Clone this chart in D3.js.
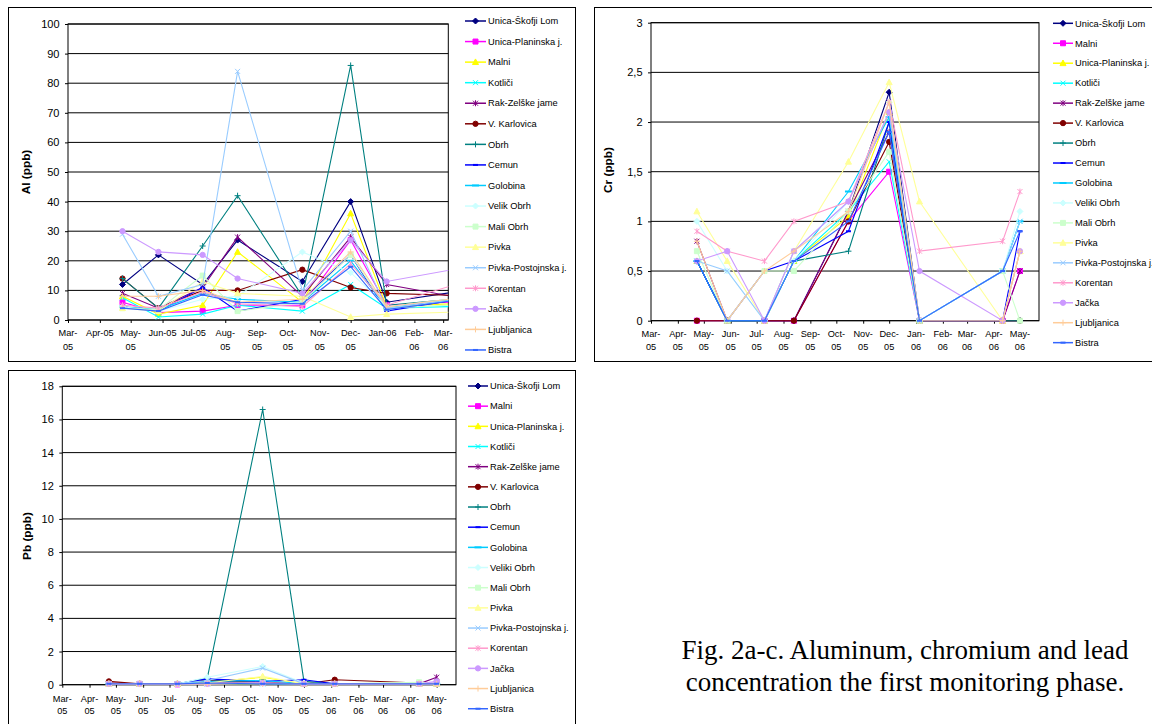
<!DOCTYPE html>
<html><head><meta charset="utf-8">
<script src="https://cdn.jsdelivr.net/npm/d3@7"></script>
<style>body{margin:0;background:#fff}svg{display:block}text{font-family:"Liberation Sans",Arial,sans-serif}text.cap{font-family:"Liberation Serif","Times New Roman",serif}</style>
</head><body><svg id="c" width="1152" height="724"></svg>
<script>
// ---------- DATA ----------
const sampleDates = ["2005-04-23","2005-05-28","2005-07-10","2005-08-13","2005-10-15","2005-12-01","2006-01-05","2006-04-11","2006-05-01"];

const alNames = ["Unica-Škofji Lom","Unica-Planinska j.","Malni","Kotliči","Rak-Zelške jame","V. Karlovica","Obrh","Cemun","Golobina","Velik Obrh","Mali Obrh","Pivka","Pivka-Postojnska j.","Korentan","Jačka","Ljubljanica","Bistra"];
const crNames = ["Unica-Škofji Lom","Malni","Unica-Planinska j.","Kotliči","Rak-Zelške jame","V. Karlovica","Obrh","Cemun","Golobina","Veliki Obrh","Mali Obrh","Pivka","Pivka-Postojnska j.","Korentan","Jačka","Ljubljanica","Bistra"];
const pbNames = crNames.slice();

const alValues = [
  [12, 22, 12, 27, 13, 40, 6, 11, null],
  [6, 2.5, 3, 5, 5, 27, 5, 6.6, null],
  [8, 2, 5, 23, 6, 36, 4.5, 6, null],
  [7.5, 1, 2, 5, 3, 12, 4, 4.8, null],
  [9, 4, 11, 28, 8, 28, 12, 6, null],
  [14, 4, 10, 10, 17, 11, 9, 8, null],
  [14, 4, 25, 42, 8, 86, 5, 8, null],
  [4.5, 3, 11, 3, 7, 22, 3, 8.5, null],
  [4.5, 3.5, 9, 7, 6, 20, 4, 8, null],
  [4.5, 3, 7, 8, 23, 16, 4.5, 8.5, null],
  [4, 3.5, 15, 3, 6, 22, 4, 5.6, null],
  [4, 3, 13, 9, 8, 1, 2, 3, null],
  [29, 8, 12, 84, 10, 30, 4, 8, null],
  [5, 4, 9.5, 5.5, 4.5, 19, 5, 15, null],
  [30, 23, 22, 14, 9, 27, 13, 19, null],
  [8, 8, 10, 6, 7, 23, 4.5, 8.5, null],
  [4, 3, 8.5, 6, 5.5, 18, 3.5, 8, null]
];
const crValues = [
  [0.6, 0, 0, 0, 1.1, 2.3, 0, 0, 0],
  [0, 0, 0, 0, 1.0, 1.5, 0, 0, 0.5],
  [0.6, 0, 0, 0.6, 1.05, 2.1, 0, 0, 0.7],
  [0.6, 0, 0, 0.6, 1.1, 1.6, 0, 0.5, 1.0],
  [0.8, 0, 0, 0, 1.1, 1.9, 0, 0, 0.5],
  [0, 0, 0, 0, 1.0, 1.8, 0, 0, 0],
  [0.6, 0, 0, 0.6, 0.7, 2.0, 0, 0, 0],
  [0.6, 0, 0.5, 0.6, 0.9, 2.0, 0, 0, 0.9],
  [0.6, 0, 0, 0.6, 1.3, 2.05, 0, 0.5, 1.0],
  [1.0, 0.5, 0, 0.6, 1.2, 2.2, 0, 0.5, 1.1],
  [0.7, 0, 0.5, 0.5, 1.1, 1.7, 0, 0.5, 0],
  [1.1, 0.6, 0, 0.7, 1.6, 2.4, 1.2, 0, 0.7],
  [0.6, 0.5, 0, 0.7, 1.2, 2.1, 0, 0.5, 1.0],
  [0.9, 0.7, 0.6, 1.0, 1.2, 2.2, 0.7, 0.8, 1.3],
  [0.6, 0.7, 0, 0.7, 1.2, 2.1, 0.5, 0, 0.7],
  [0.8, 0, 0.5, 0.7, 1.1, 2.2, 0, 0, 0.7],
  [0.6, 0, 0, 0.6, 1.0, 1.9, 0, 0.5, 0.9]
];
const pbValues = [
  [0.05, 0.05, 0.05, 0.3, 0.1, 0.05, 0.05, 0.05, 0.05],
  [0.05, 0.05, 0.02, 0.1, 0.15, 0.05, 0.05, 0.05, 0.1],
  [0.05, 0.05, 0.05, 0.15, 0.45, 0.05, 0.05, 0.05, 0.05],
  [0.02, 0.02, 0.02, 0.05, 0.05, 0.02, 0.02, 0.02, 0.02],
  [0.1, 0.05, 0.05, 0.2, 0.1, 0.05, 0.05, 0.05, 0.45],
  [0.2, 0.05, 0.05, 0.25, 0.15, 0.05, 0.3, 0.1, 0.05],
  [0.05, 0.05, 0.05, 0.4, 16.6, 0.2, 0.05, 0.05, 0.05],
  [0.05, 0.05, 0.05, 0.35, 0.2, 0.3, 0.05, 0.05, 0.05],
  [0.05, 0.05, 0.05, 0.2, 0.25, 0.05, 0.05, 0.05, 0.05],
  [0.05, 0.05, 0.05, 0.45, 1.1, 0.1, 0.05, 0.1, 0.05],
  [0.05, 0.05, 0.05, 0.1, 0.1, 0.05, 0.05, 0.15, 0.1],
  [0.05, 0.05, 0.05, 0.1, 0.5, 0.05, 0.05, 0.05, 0.05],
  [0.05, 0.05, 0.05, 0.25, 1.0, 0.05, 0.05, 0.05, 0.05],
  [0.05, 0.05, 0.05, 0.05, 0.1, 0.05, 0.05, 0.05, 0.05],
  [0.05, 0.05, 0.05, 0.05, 0.1, 0.05, 0.05, 0.05, 0.2],
  [0.05, 0.05, 0.05, 0.05, 0.05, 0.05, 0.05, 0.05, 0.05],
  [0.05, 0.05, 0.05, 0.1, 0.05, 0.05, 0.05, 0.05, 0.05]
];

const alXTickLabels = ["Mar-\n05","Apr-05","May-\n05","Jun-05","Jul-05","Aug-\n05","Sep-\n05","Oct-\n05","Nov-\n05","Dec-\n05","Jan-06","Feb-\n06","Mar-\n06"];
const crXTickLabels = ["Mar-\n05","Apr-\n05","May-\n05","Jun-\n05","Jul-\n05","Aug-\n05","Sep-\n05","Oct-\n05","Nov-\n05","Dec-\n05","Jan-\n06","Feb-\n06","Mar-\n06","Apr-\n06","May-\n06"];
const pbXTickLabels = crXTickLabels.slice();
const alYTicks = [0,10,20,30,40,50,60,70,80,90,100];
const alYTickLabels = ["0","10","20","30","40","50","60","70","80","90","100"];
const crYTicks = [0,0.5,1,1.5,2,2.5,3];
const crYTickLabels = ["0","0,5","1","1,5","2","2,5","3"];
const pbYTicks = [0,2,4,6,8,10,12,14,16,18];
const pbYTickLabels = ["0","2","4","6","8","10","12","14","16","18"];
const captionLines = ["Fig. 2a-c. Aluminum, chromium and lead","concentration the first monitoring phase."];

// ---------- STYLE ----------
const colors = ["#000080","#FF00FF","#FFFF00","#00FFFF","#800080","#800000","#008080","#0000FF","#00CCFF","#CCFFFF","#CCFFCC","#FFFF99","#99CCFF","#FF99CC","#CC99FF","#FFCC99","#3366FF"];
const markerTypes = ["diamond","square","triangle","x","star","circle","plus","dash","longdash","diamond","square","triangle","x","star","circle","plus","dash"];
const markerPaths = {
  diamond: {d:"M0,-3L3,0L0,3L-3,0Z", fill:true},
  square: {d:"M-2.5,-2.5h5v5h-5Z", fill:true},
  triangle: {d:"M0,-3.2L3,2.4L-3,2.4Z", fill:true},
  x: {d:"M-2.5,-2.5L2.5,2.5M-2.5,2.5L2.5,-2.5", fill:false},
  star: {d:"M-2.5,-2.5L2.5,2.5M-2.5,2.5L2.5,-2.5M0,-3V3", fill:false},
  circle: {d:d3.symbol(d3.symbolCircle, 22)(), fill:true},
  plus: {d:"M-3,0H3M0,-3V3", fill:false},
  dash: {d:"M-2.5,0H2.5", fill:false, w:2},
  longdash: {d:"M-3.5,0H3.5", fill:false, w:2}
};

const svg = d3.select("#c");
const parse = d3.timeParse("%Y-%m-%d");
const dates = sampleDates.map(parse);

function marker(g, type, color, x, y){
  const m = markerPaths[type];
  g.append("path").attr("d", m.d).attr("transform", `translate(${x},${y})`)
    .attr("fill", m.fill ? color : "none").attr("stroke", color).attr("stroke-width", m.w || 1);
}

function drawChart(cfg, idx){
  const {panel, plot, xStart, xEnd, yTicks, yTickLabels, xTickLabels, names, values, title, titleX, titleY, legend, xl1, xl2} = cfg;
  svg.append("rect").attr("x", panel[0]+0.5).attr("y", panel[1]+0.5).attr("width", panel[2]-panel[0]).attr("height", panel[3]-panel[1])
    .attr("fill","#fff").attr("stroke","#000").attr("stroke-width",1);
  const x = d3.scaleTime().domain([parse(xStart), parse(xEnd)]).range([plot[0], plot[2]]);
  const y = d3.scaleLinear().domain([yTicks[0], yTicks[yTicks.length-1]]).range([plot[3], plot[1]]);
  const g = svg.append("g");
  g.append("g").selectAll("line").data(yTicks).join("line")
    .attr("x1", plot[0]).attr("x2", plot[2]).attr("y1", d=>y(d)).attr("y2", d=>y(d))
    .attr("stroke","#000").attr("stroke-width",1);
  g.append("rect").attr("x",plot[0]).attr("y",plot[1]).attr("width",plot[2]-plot[0]).attr("height",plot[3]-plot[1])
    .attr("fill","none").attr("stroke","#000").attr("stroke-width",1);
  const ya = d3.axisLeft(y).tickValues(yTicks).tickSize(3).tickFormat((d,i)=>yTickLabels[i]);
  const yg = g.append("g").attr("transform",`translate(${plot[0]},0)`).call(ya);
  yg.select(".domain").remove();
  yg.selectAll("text").attr("font-size",11).attr("font-family",null).attr("fill","#000").attr("x",-8.5);
  yg.selectAll("line").attr("stroke","#000");
  const monthTicks = d3.timeMonth.range(parse(xStart), d3.timeDay.offset(parse(xEnd),1));
  const xa = d3.axisBottom(x).tickValues(monthTicks).tickSize(3).tickFormat("");
  const xg = g.append("g").attr("transform",`translate(0,${plot[3]})`).call(xa);
  xg.select(".domain").remove();
  xg.selectAll("line").attr("stroke","#000");
  const lab = g.append("g").selectAll("text").data(monthTicks).join("text")
    .attr("text-anchor","middle").attr("font-size",9.2).attr("fill","#000");
  lab.each(function(d,i){
    const parts = xTickLabels[i].split("\n");
    const t = d3.select(this);
    parts.forEach((p,j)=>{
      t.append("tspan").attr("x", x(d)).attr("y", plot[3] + (j===0?xl1:xl2)).text(p);
    });
  });
  g.append("text").attr("transform",`translate(${titleX},${titleY}) rotate(-90)`).attr("text-anchor","middle")
    .attr("dy","0.35em").attr("font-size",11.8).attr("font-weight","bold").attr("fill","#000").text(title);
  const clipId = "clip"+idx;
  svg.append("clipPath").attr("id",clipId).append("rect").attr("x",plot[0]).attr("y",plot[1]-4).attr("width",plot[2]-plot[0]).attr("height",plot[3]-plot[1]+8);
  const sg = g.append("g").attr("clip-path",`url(#${clipId})`);
  const line = d3.line().defined(d=>d.v!=null).x(d=>x(d.t)).y(d=>y(d.v));
  values.forEach((vals, s)=>{
    const pts = vals.map((v,i)=>({t:dates[i], v}));
    sg.append("path").attr("d", line(pts)).attr("fill","none").attr("stroke",colors[s]).attr("stroke-width",1.1);
    pts.filter(p=>p.v!=null).forEach(p=>marker(sg, markerTypes[s], colors[s], x(p.t), y(p.v)));
  });
  const lg = svg.append("g");
  names.forEach((n,s)=>{
    const yy = legend.y0 + s*legend.step;
    lg.append("line").attr("x1",legend.x1).attr("x2",legend.x2).attr("y1",yy).attr("y2",yy).attr("stroke",colors[s]).attr("stroke-width",1.5);
    marker(lg, markerTypes[s], colors[s], (legend.x1+legend.x2)/2, yy);
    lg.append("text").attr("x",legend.tx).attr("y",yy).attr("dy","0.35em").attr("font-size",9.3).attr("fill","#000").text(n);
  });
}

drawChart({panel:[8,7,575,361], plot:[68,24,448.3,320], xStart:"2005-03-01", xEnd:"2006-03-06",
  yTicks:alYTicks, yTickLabels:alYTickLabels, xTickLabels:alXTickLabels, names:alNames, values:alValues,
  title:"Al (ppb)", titleX:26, titleY:172, legend:{x1:465,x2:486,tx:488,y0:21,step:20.56}, xl1:16, xl2:29.5}, 0);
drawChart({panel:[594,7,1170,361], plot:[651,22.7,1039,320.7], xStart:"2005-03-01", xEnd:"2006-05-23",
  yTicks:crYTicks, yTickLabels:crYTickLabels, xTickLabels:crXTickLabels, names:crNames, values:crValues,
  title:"Cr (ppb)", titleX:608, titleY:170, legend:{x1:1053,x2:1073,tx:1075,y0:23.3,step:19.96}, xl1:16, xl2:29.3}, 1);
drawChart({panel:[8,370,575,740], plot:[62.3,386.3,456,684.7], xStart:"2005-03-01", xEnd:"2006-05-23",
  yTicks:pbYTicks, yTickLabels:pbYTickLabels, xTickLabels:pbXTickLabels, names:pbNames, values:pbValues,
  title:"Pb (ppb)", titleX:26.7, titleY:536, legend:{x1:468,x2:488,tx:490,y0:386,step:20.17}, xl1:17, xl2:29}, 2);

svg.append("g").selectAll("text").data(captionLines).join("text")
  .attr("class","cap")
  .attr("x",905).attr("y",(d,i)=>659+i*31.5).attr("text-anchor","middle")
  .style("font-family",'"Liberation Serif","Times New Roman",serif').attr("font-size",27).attr("fill","#000").text(d=>d);
</script></body></html>
